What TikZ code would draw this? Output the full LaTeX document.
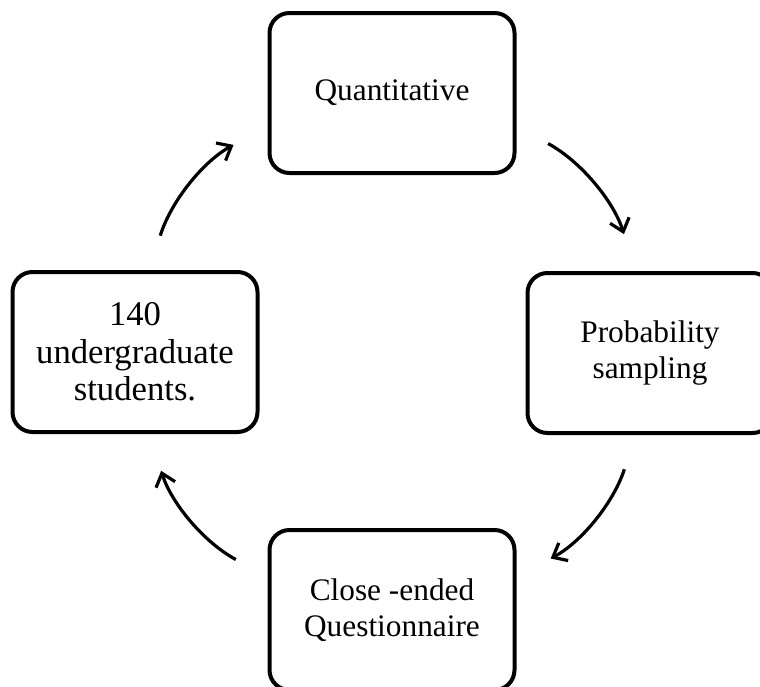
\documentclass[tikz,border=0pt]{standalone}
\usepackage{fontspec}
\setmainfont{Liberation Serif}
\usetikzlibrary{arrows.meta}

\tikzset{
  stagebox/.style={draw, line width=3pt, rounded corners=15pt,
    minimum width=183.75pt, minimum height=120pt, align=center,
    font=\fontsize{23.5}{26.5}\selectfont},
  cyclearrow/.style={->, line width=2.4pt, shorten <=27pt, shorten >=29pt},
  >={Straight Barb[length=9pt, width=15pt]}
}

\begin{document}
\begin{tikzpicture}[x=0.75pt, y=-0.75pt]
    \useasboundingbox (0,0) rectangle (760,686);
    \node [stagebox] (quant) at (392, 93) {Quantitative} ;
    \node [stagebox] (prob) at (650, 353) {Probability\\sampling} ;
    \node [stagebox] (quest) at (392, 610) {Close -ended\\Questionnaire} ;
    \node [stagebox, font=\fontsize{26}{28}\selectfont] (stud) at (135, 352) {140\\undergraduate\\students.} ;
    \draw [cyclearrow] (quant.-15) to [bend left=22] (prob.100);
    \draw [cyclearrow] (prob.-100) to [bend left=22] (quest.15);
    \draw [cyclearrow] (quest.165) to [bend left=22] (stud.-80);
    \draw [cyclearrow] (stud.80) to [bend left=22] (quant.195);
  \end{tikzpicture}
\end{document}
